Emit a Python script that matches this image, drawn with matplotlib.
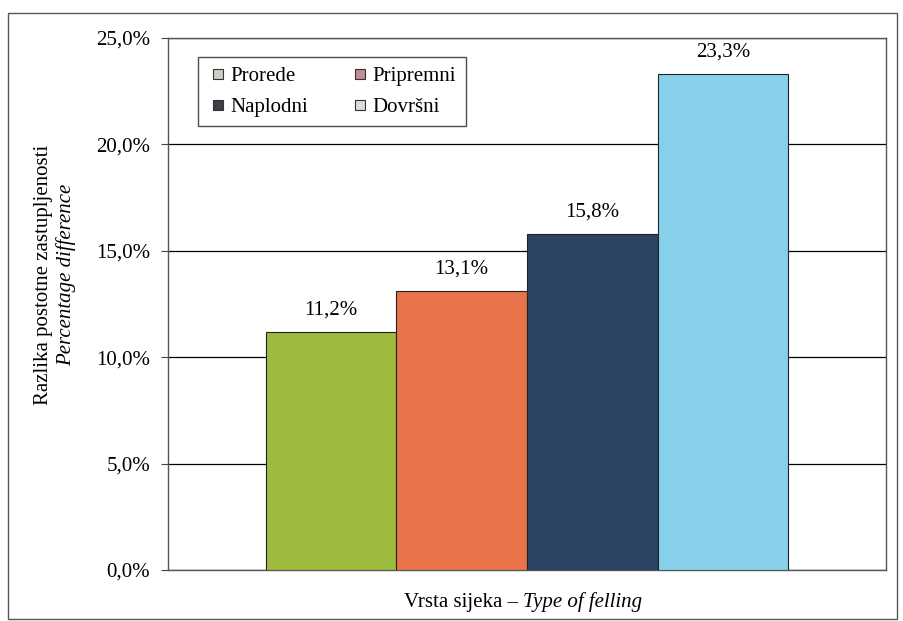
import matplotlib
matplotlib.use('Agg')
import matplotlib.pyplot as plt
from matplotlib.patches import Rectangle
from matplotlib.lines import Line2D
import numpy as np

# data
categories = ['Prorede', 'Pripremni', 'Naplodni', 'Dovršni']
values = [11.2, 13.1, 15.8, 23.3]
bar_colors = ['#9dbb3c', '#ea7449', '#2c4463', '#86d0e9']
legend_colors = ['#c9d0c2', '#c38d98', '#3b4049', '#dadde0']
yticks = [0, 5, 10, 15, 20, 25]

plt.rcParams['font.family'] = ['Liberation Serif', 'DejaVu Serif']
FS = 15

fig = plt.figure(figsize=(9.04, 6.21), dpi=100)
W, H = 904, 621

# outer frame
fig.patches.append(Rectangle((8 / W, 2 / H), 889 / W, 606 / H, transform=fig.transFigure,
                             fill=False, edgecolor='#555555', linewidth=1.0))

ax = fig.add_axes([168 / W, 51 / H, 718 / W, 532 / H])
x = np.arange(len(values))
bars = ax.bar(x, values, width=1.0, color=bar_colors, edgecolor='#222222', linewidth=0.8, zorder=3)

for xi, v in zip(x, values):
    ax.annotate(f'{v:.1f}%'.replace('.', ','), (xi, v), xytext=(0, 9), textcoords='offset points',
                ha='center', va='bottom', fontsize=FS)

ax.set_xlim(-1.25, 4.25)
ax.set_ylim(0, 25)
ax.set_yticks(yticks)
ax.set_yticklabels([f'{t:.1f}%'.replace('.', ',') for t in yticks], fontsize=FS)
ax.set_xticks([])
ax.yaxis.grid(True, color='black', linewidth=0.9, zorder=0)
ax.tick_params(axis='y', length=5, width=0.8, color='#444444', pad=8)
for s in ax.spines.values():
    s.set_color('#555555')
    s.set_linewidth(1.0)

fig.text(44 / W, 1 - 275 / H, 'Razlika postotne zastupljenosti', rotation=90,
         ha='center', va='center', fontsize=FS)
fig.text(66 / W, 1 - 275 / H, 'Percentage difference', rotation=90, style='italic',
         ha='center', va='center', fontsize=FS)

# x label: regular + italic part, centred as one line
t1 = fig.text(0, 1 - 602 / H, 'Vrsta sijeka – ', ha='left', va='center', fontsize=FS)
t2 = fig.text(0, 1 - 602 / H, 'Type of felling', style='italic', ha='left', va='center', fontsize=FS)
r = fig.canvas.get_renderer()
w1 = t1.get_window_extent(r).width
w2 = t2.get_window_extent(r).width
x0 = 523 - (w1 + w2) / 2
t1.set_x(x0 / W)
t2.set_x((x0 + w1) / W)

# legend is filled column by column, so order handles for row-major look
order = [0, 2, 1, 3]
handles = [Line2D([], [], marker='s', linestyle='none', markersize=7,
                  markerfacecolor=legend_colors[i], markeredgecolor='#333333', markeredgewidth=0.8)
           for i in order]
labels = [categories[i] for i in order]
leg = ax.legend(handles, labels, ncol=2, loc='upper left', bbox_to_anchor=(30 / 718, 1 - 19 / 532),
                borderaxespad=0, fontsize=FS, frameon=True, fancybox=False, handletextpad=0.1,
                columnspacing=2.0, handlelength=1.0, borderpad=0.45, labelspacing=0.55)
leg.get_frame().set_edgecolor('#222222')
leg.get_frame().set_linewidth(1.0)
leg.set_zorder(5)

fig.savefig('out.png', dpi=100)
